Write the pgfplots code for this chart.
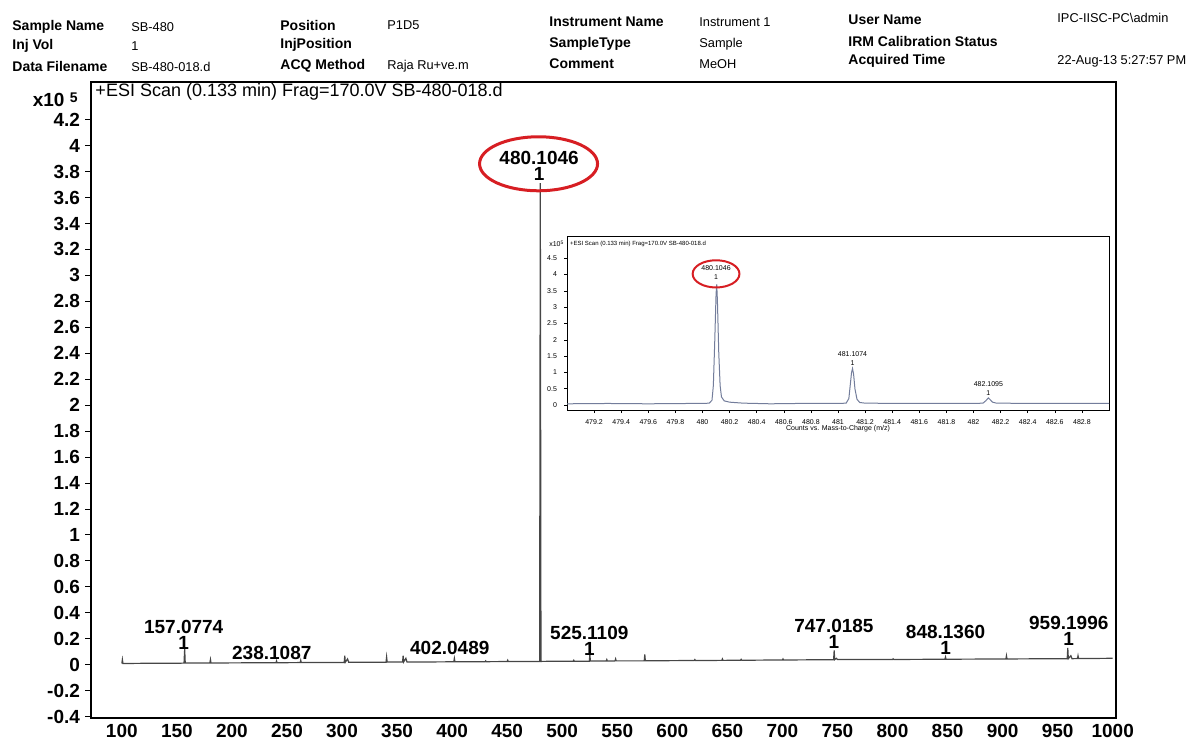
\documentclass[border=0pt]{standalone}
\usepackage{fontspec}
\setmainfont{Liberation Sans}
\usepackage{pgfplots}
\pgfplotsset{compat=1.18}
\definecolor{specgray}{RGB}{70,70,70}
\definecolor{insetblue}{RGB}{115,125,155}
\definecolor{circred}{RGB}{215,30,35}

\begin{document}
\begin{tikzpicture}
\path[use as bounding box] (0pt,0pt) rectangle (596pt,370pt);
% ---------------- header ----------------
\begin{scope}[every node/.style={anchor=west, inner sep=0pt, font=\fontsize{7}{8}\selectfont\bfseries}]
\node at (6pt,356.5pt) {Sample Name};
\node at (6pt,347pt) {Inj Vol};
\node at (6pt,336.5pt) {Data Filename};
\node at (140pt,357.5pt) {Position};
\node at (140pt,347.5pt) {InjPosition};
\node at (140pt,337pt) {ACQ Method};
\node at (274.5pt,359pt) {Instrument Name};
\node at (274.5pt,348pt) {SampleType};
\node at (274.5pt,338pt) {Comment};
\node at (424pt,360pt) {User Name};
\node at (424pt,349.5pt) {IRM Calibration Status};
\node at (424pt,339.5pt) {Acquired Time};
\end{scope}
\begin{scope}[every node/.style={anchor=west, inner sep=0pt, font=\fontsize{6.4}{7.5}\selectfont}]
\node at (65.5pt,356.5pt) {SB-480};
\node at (65.5pt,347pt) {1};
\node at (65.5pt,336.5pt) {SB-480-018.d};
\node at (193.5pt,357.5pt) {P1D5};
\node at (193.5pt,337pt) {Raja Ru+ve.m};
\node at (349.5pt,359pt) {Instrument 1};
\node at (349.5pt,348pt) {Sample};
\node at (349.5pt,338pt) {MeOH};
\node at (528.5pt,361pt) {IPC-IISC-PC\textbackslash admin};
\node at (528.5pt,339.5pt) {22-Aug-13 5:27:57 PM};
\end{scope}
\node[anchor=east, inner sep=0pt, font=\fontsize{9.5}{10}\selectfont\bfseries] at (39pt,320pt) {x10 \raisebox{2pt}{\fontsize{7}{8}\selectfont 5}};

% ---------------- main spectrum ----------------
\begin{axis}[
  at={(45.5pt,11pt)}, anchor=south west, scale only axis,
  width=512.5pt, height=318pt,
  xmin=72, xmax=1003, ymin=-0.41, ymax=4.49,
  xtick={100,150,200,250,300,350,400,450,500,550,600,650,700,750,800,850,900,950,1000},
  ytick={-0.4,-0.2,0,0.2,0.4,0.6,0.8,1,1.2,1.4,1.6,1.8,2,2.2,2.4,2.6,2.8,3,3.2,3.4,3.6,3.8,4,4.2},
  xtick pos=bottom, ytick pos=left,
  /pgf/number format/assume math mode=true,
  tick label style={font=\fontsize{9.5}{10}\selectfont\bfseries},
  yticklabel style={/pgf/number format/fixed, /pgf/number format/precision=1, xshift=1pt},
  xticklabel style={/pgf/number format/fixed, /pgf/number format/1000 sep={}, yshift=3.5pt},
  axis line style={line width=1pt},
  tick align=outside, major tick length=3pt,
  xtick style={draw=none}, ytick style={line width=0.5pt, black},
  clip=false,
]
\addplot[specgray, line width=0.6pt] coordinates {
(100,0.01)(100.5,0.04)(101,0.01)(130,0.012)(150,0.012)(156.5,0.013)(157.08,0.12)(157.6,0.013)
(180,0.014)(180.5,0.04)(181,0.014)(210,0.015)(230,0.016)(240,0.016)(240.5,0.03)(241,0.016)
(262,0.017)(262.5,0.035)(263,0.017)(285,0.018)(302,0.018)(302.5,0.07)(303,0.02)(305,0.045)(306,0.02)
(320,0.02)(340,0.02)(340.5,0.06)(341,0.021)(355,0.021)(355.5,0.07)(356,0.022)(358,0.05)(359,0.022)
(380,0.022)(401.5,0.023)(402.05,0.05)(402.6,0.023)(420,0.024)(430,0.024)(430.5,0.03)(431,0.024)
(450,0.025)(450.5,0.035)(451,0.025)(479.5,0.026)(480.1,3.71)(480.7,0.026)(490,0.027)
(510,0.028)(510.5,0.035)(511,0.028)(524.6,0.028)(525.11,0.08)(525.6,0.029)(540,0.029)(540.5,0.04)(541,0.029)
(548,0.03)(548.5,0.045)(549,0.03)(574.5,0.03)(575,0.08)(575.5,0.031)(600,0.032)(620,0.033)(620.5,0.04)(621,0.033)
(645,0.034)(645.5,0.045)(646,0.034)(662,0.035)(662.5,0.042)(663,0.035)(680,0.036)(700,0.037)(700.5,0.045)(701,0.037)
(720,0.038)(746.5,0.039)(747.02,0.11)(747.5,0.04)(749,0.05)(750,0.04)(760,0.04)(780,0.04)(800,0.041)(800.5,0.046)(801,0.041)
(830,0.042)(847.6,0.043)(848.14,0.06)(848.6,0.043)(880,0.044)(903,0.045)(903.5,0.07)(904,0.045)(930,0.046)
(958.7,0.047)(959.2,0.13)(959.7,0.047)(962,0.07)(963,0.047)(968,0.048)(968.5,0.07)(969,0.048)(985,0.049)(1000,0.05)
};
\node[anchor=west, inner sep=0pt, font=\fontsize{9}{10}\selectfont] at (axis description cs:0.004,0.984) {+ESI Scan (0.133 min) Frag=170.0V SB-480-018.d};
\begin{scope}[every node/.style={inner sep=0pt, align=center, font=\fontsize{9.5}{8}\selectfont\bfseries}]
\node at (axis cs:479,3.845) {480.1046\\1};
\node at (axis cs:156.2,0.228) {157.0774\\1};
\node at (axis cs:236.2,0.09) {238.1087};
\node at (axis cs:397.9,0.13) {402.0489};
\node at (axis cs:524.6,0.188) {525.1109\\1};
\node at (axis cs:746.8,0.235) {747.0185\\1};
\node at (axis cs:848.2,0.195) {848.1360\\1};
\node at (axis cs:960.1,0.265) {959.1996\\1};
\end{scope}
\draw[circred, line width=1.5pt] (axis cs:478.5,3.86) ellipse [x radius=29.5pt, y radius=13.5pt];
\end{axis}

% ---------------- inset ----------------
\begin{axis}[
  at={(283.5pt,165pt)}, anchor=south west, scale only axis,
  width=271pt, height=87pt,
  xmin=479, xmax=483, ymin=-0.15, ymax=5.18,
  axis background/.style={fill=white},
  xtick={479.2,479.4,479.6,479.8,480,480.2,480.4,480.6,480.8,481,481.2,481.4,481.6,481.8,482,482.2,482.4,482.6,482.8},
  ytick={0,0.5,1,1.5,2,2.5,3,3.5,4,4.5},
  xtick pos=bottom, ytick pos=left,
  /pgf/number format/assume math mode=true,
  tick label style={font=\fontsize{3.5}{4}\selectfont},
  xticklabel style={/pgf/number format/fixed, /pgf/number format/precision=1, /pgf/number format/1000 sep={}},
  yticklabel style={/pgf/number format/fixed, /pgf/number format/precision=1},
  axis line style={line width=0.5pt},
  tick align=outside, major tick length=1.5pt,
  tick style={line width=0.3pt, black},
  xlabel={Counts vs. Mass-to-Charge (m/z)},
  xlabel style={font=\fontsize{3.5}{4}\selectfont, at={(axis description cs:0.5,-0.105)}, anchor=center, inner sep=0pt},
  clip=false,
]
\addplot[insetblue, line width=0.5pt] coordinates {
(479.0,0.04)(479.3,0.05)(479.6,0.04)(479.9,0.05)(480.0,0.05)(480.05,0.06)(480.07,0.15)(480.08,0.6)
(480.09,1.9)(480.1,3.4)(480.105,3.7)(480.11,3.2)(480.12,1.6)(480.13,0.6)(480.14,0.25)(480.16,0.13)
(480.2,0.09)(480.3,0.06)(480.5,0.04)(480.7,0.05)(480.9,0.05)(481.0,0.05)(481.06,0.06)(481.08,0.2)
(481.09,0.6)(481.1,1.0)(481.107,1.12)(481.115,0.95)(481.125,0.5)(481.14,0.18)(481.16,0.08)(481.2,0.06)
(481.5,0.05)(481.8,0.05)(482.0,0.05)(482.07,0.06)(482.09,0.13)(482.1095,0.22)(482.12,0.18)(482.14,0.09)
(482.17,0.06)(482.5,0.05)(483.0,0.05)
};
\node[anchor=west, inner sep=0pt, font=\fontsize{3}{3.5}\selectfont] at (axis description cs:0.005,0.955) {+ESI Scan (0.133 min) Frag=170.0V SB-480-018.d};
\node[anchor=east, inner sep=0pt, font=\fontsize{3.5}{4}\selectfont] at (axis description cs:-0.006,0.955) {x10\raisebox{1pt}{\fontsize{2.5}{3}\selectfont 5}};
\begin{scope}[every node/.style={inner sep=0pt, align=center, font=\fontsize{3.5}{4.5}\selectfont}]
\node at (axis cs:480.1,4.065) {480.1046\\1};
\node at (axis cs:481.107,1.425) {481.1074\\1};
\node at (axis cs:482.11,0.505) {482.1095\\1};
\end{scope}
\draw[circred, line width=1pt] (axis cs:480.1,4.02) ellipse [x radius=11.7pt, y radius=6.8pt];
\end{axis}
\end{tikzpicture}
\end{document}
